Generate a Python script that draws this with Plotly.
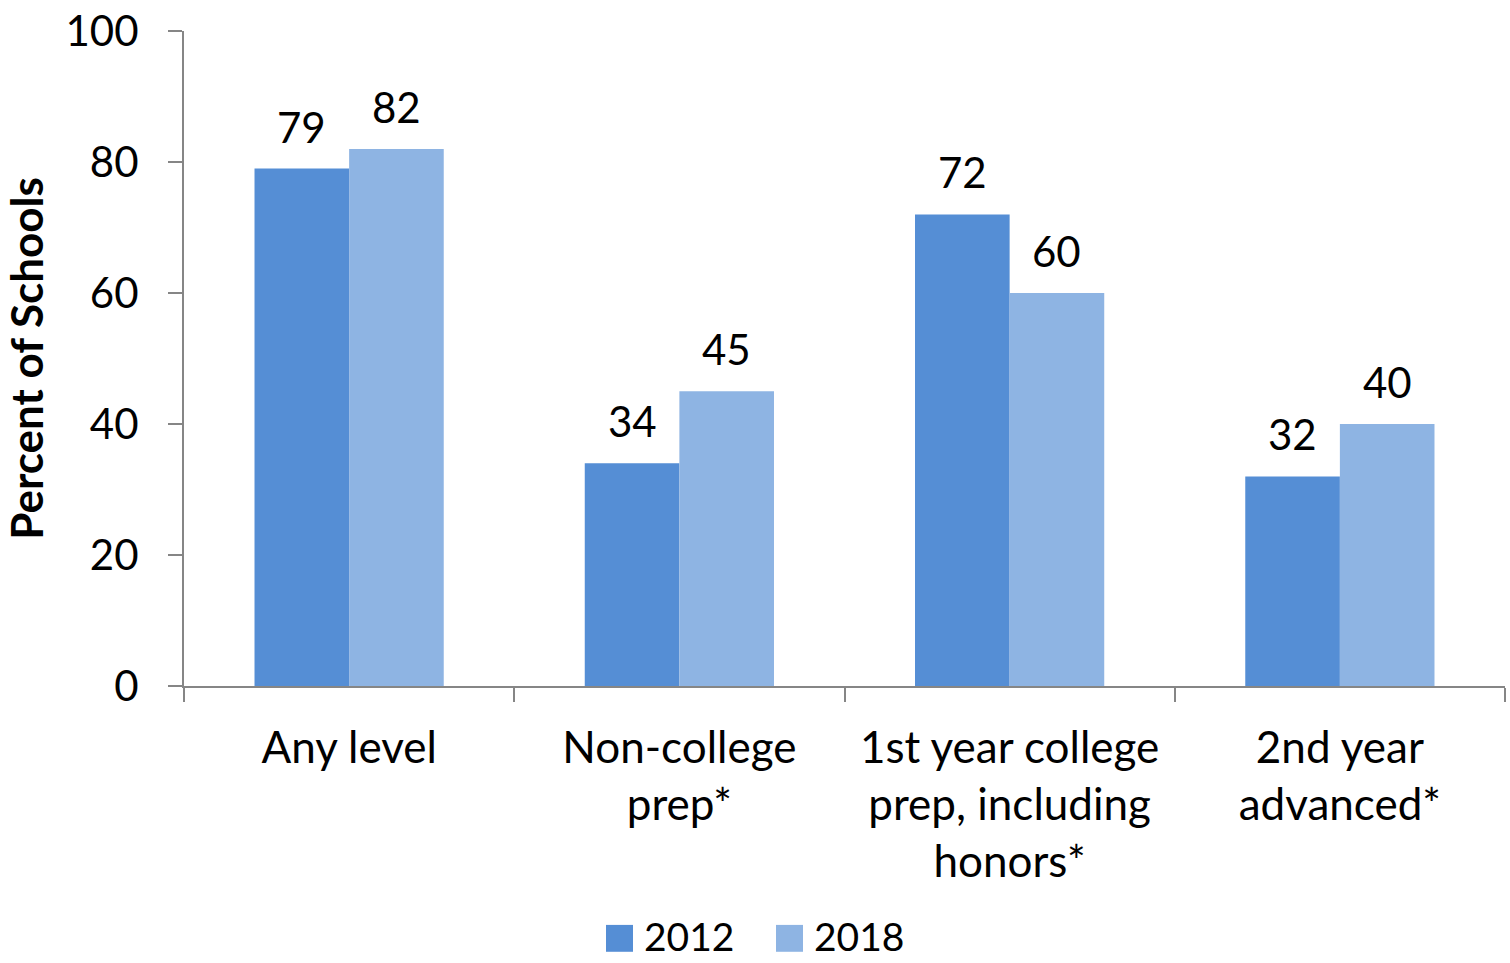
import plotly.graph_objects as go

categories = ["Any level", "Non-college<br>prep*", "1st year college<br>prep, including<br>honors*", "2nd year<br>advanced*"]
series_names = ["2012", "2018"]
values_2012 = [79, 34, 72, 32]
values_2018 = [82, 45, 60, 40]
y_ticks = [0, 20, 40, 60, 80, 100]

colors = ["#558ED5", "#8EB4E3"]
FONT = "Lato, Open Sans, sans-serif"
AXIS_GREY = "#868686"

W, H = 1510, 963
M = dict(l=184, r=5, t=28, b=277)
pw = W - M["l"] - M["r"]
ph = H - M["t"] - M["b"]
BARGAP = 0.427
# half the width of one bar in a two-bar group, in pixels
bar_half = pw / len(categories) * (1 - BARGAP) / 4

fig = go.Figure()
for name, vals, col in zip(series_names, [values_2012, values_2018], colors):
    fig.add_trace(go.Bar(
        x=categories, y=vals, name=name,
        marker=dict(color=col, line=dict(width=0)),
        showlegend=False,
    ))

# value labels above each bar
for i, vals in enumerate([values_2012, values_2018]):
    shift = -bar_half if i == 0 else bar_half
    for cat, v in zip(categories, vals):
        fig.add_annotation(x=cat, y=v, xref="x", yref="y", text=str(v), showarrow=False,
                           xanchor="center", yanchor="bottom", xshift=shift, yshift=15,
                           font=dict(family=FONT, size=42, color="black"))

# legend drawn as swatches + labels below the plot
def px_x(x):
    return (x - M["l"]) / pw

def px_y(y):
    return (H - M["b"] - y) / ph

legend_x = [606, 776]
sw = 27
y_top, y_bot = 926, 953
for name, col, lx in zip(series_names, colors, legend_x):
    fig.add_shape(type="rect", xref="paper", yref="paper",
                  x0=px_x(lx), x1=px_x(lx + sw), y0=px_y(y_bot), y1=px_y(y_top),
                  fillcolor=col, line=dict(width=0))
    fig.add_annotation(xref="paper", yref="paper", x=px_x(lx + sw + 9), y=px_y(937),
                       xanchor="left", yanchor="middle", text=name, showarrow=False,
                       font=dict(family=FONT, size=39, color="black"))

fig.update_layout(
    width=W, height=H, margin=M,
    paper_bgcolor="white", plot_bgcolor="white",
    barmode="group", bargap=BARGAP, bargroupgap=0,
    font=dict(family=FONT, size=42, color="black"),
    xaxis=dict(
        type="category", showline=True, linecolor=AXIS_GREY, linewidth=2,
        ticks="outside", tickson="boundaries", ticklen=14, tickcolor=AXIS_GREY, tickwidth=2,
        tickfont=dict(family=FONT, size=44, color="black"), showgrid=False,
        ticklabelstandoff=22,
    ),
    yaxis=dict(
        range=[0, 100], tickvals=y_ticks, showline=True, linecolor=AXIS_GREY, linewidth=2,
        ticks="outside", ticklen=14, tickcolor=AXIS_GREY, tickwidth=2,
        tickfont=dict(family=FONT, size=42, color="black"), showgrid=False, zeroline=False,
        ticklabelstandoff=21,
        title=dict(text="<b>Percent of Schools</b>", font=dict(family=FONT, size=44, color="black"), standoff=26),
    ),
)

fig.write_html("out.html")
